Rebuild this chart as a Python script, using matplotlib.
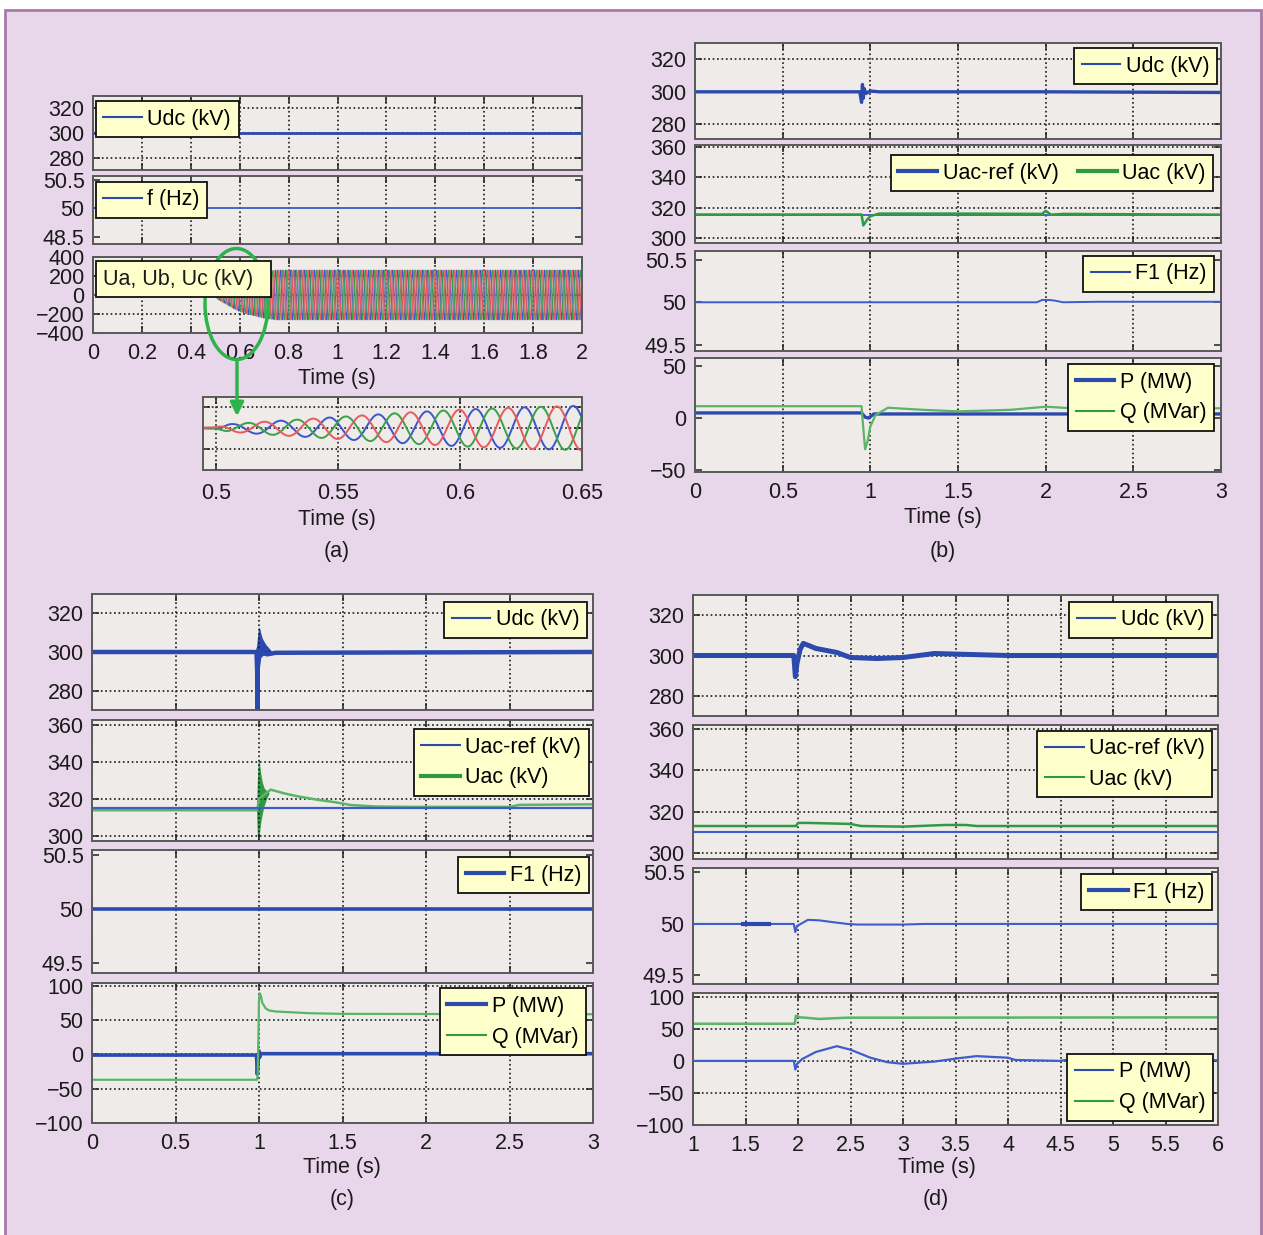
import numpy as np
import matplotlib.pyplot as plt
from matplotlib.lines import Line2D
from matplotlib.patches import Rectangle, Ellipse, FancyArrowPatch
from matplotlib.ticker import FuncFormatter

plt.rcParams['font.family'] = ['Liberation Sans', 'DejaVu Sans']

W, H = 1263, 1235
FS = 15.5

BLUE = '#2c4aae'
BLUE_LT = '#3d5dcc'
GREEN = '#2f9a42'
GREEN_LT = '#5ab566'
ARROW_GREEN = '#2db34a'
AX_FACE = '#efebe8'
BG = '#e8d6ea'
EDGE = '#a87aa9'
LEG_FACE = '#ffffcc'
PHASE_COLORS = {'blue': '#3a55d0', 'green': '#3aa04a', 'red': '#e85a60'}

# ---------------- (a) start-up ----------------
A_UDC_T = [0.0, 2.0]
A_UDC_V = [300, 300]
A_F_T = [0.0, 2.0]
A_F_V = [50, 50]
# envelope of Ua, Ub, Uc (kV); carrier is the 50 Hz grid
A_ENV_T = [0.0, 0.49, 0.50, 0.505, 0.52, 0.55, 0.58, 0.60, 0.63, 0.65, 0.70, 0.75, 2.0]
A_ENV_V = [0, 0, 8, 35, 60, 105, 150, 175, 200, 212, 245, 262, 262]
A_FREQ = 50.0
A_PEAKS = {'blue': 0.6064, 'green': 0.6131, 'red': 0.6197}

# ---------------- (b) ----------------
B_UDC_T = [0, 0.94, 0.95, 0.955, 0.96, 0.965, 0.975, 1.0, 1.05, 2.0, 3.0]
B_UDC_V = [300, 300, 293.5, 304.5, 296, 302, 299, 300.5, 300, 300, 299.6]
B_UACREF_T = [0, 3.0]
B_UACREF_V = [315.6, 315.6]
B_UAC_T = [0, 0.95, 0.96, 0.98, 1.0, 1.05, 1.5, 1.98, 2.0, 2.03, 2.1, 3.0]
B_UAC_V = [315.6, 315.6, 308.5, 312, 314.5, 316.2, 316.2, 316, 318, 315.5, 316, 315.5]
B_F1_T = [0, 1.95, 1.98, 2.02, 2.05, 2.1, 2.3, 3.0]
B_F1_V = [50, 50, 50.027, 50.027, 50.02, 50.0, 50.006, 50.006]
B_P_T = [0, 0.95, 0.97, 0.99, 1.02, 3.0]
B_P_V = [5, 5, 1, 0, 4, 4]
B_Q_T = [0, 0.95, 0.96, 0.97, 0.985, 1.0, 1.03, 1.1, 1.3, 1.5, 1.8, 2.0, 2.2, 3.0]
B_Q_V = [11.5, 11.5, -10, -30, -22, -8, 3, 10, 8, 6.5, 8, 11, 9, 9.5]

# ---------------- (c) ----------------
C_UDC_T = [0, 0.985, 0.989, 0.990, 0.991, 1.0, 1.05, 1.1, 3.0]
C_UDC_V = [300, 300, 290, 270, 290, 300, 298.8, 299.6, 300]
C_UDC_BAND_T = [0.975, 0.985, 0.99, 0.995, 1.0, 1.005, 1.01, 1.02, 1.04, 1.06, 1.08]
C_UDC_BAND_HI = [300, 303, 307, 311, 313, 312, 310, 307, 304, 302, 300]
C_UDC_BAND_LO = [300, 286, 284, 285, 290, 294, 297, 298, 299, 299.5, 300]
C_UACREF_T = [0, 3.0]
C_UACREF_V = [314.8, 314.8]
C_UAC_T = [0, 0.99, 1.0, 1.07, 1.15, 1.23, 1.35, 1.46, 1.55, 1.7, 1.92, 2.5, 2.56, 3.0]
C_UAC_V = [313.8, 313.8, 320, 325, 323, 321.4, 319.5, 318.1, 316.6, 315.8, 315.6, 315.6, 316.7, 317]
C_UAC_BAND_T = [0.985, 0.99, 0.995, 1.0, 1.005, 1.01, 1.02, 1.03, 1.045, 1.06]
C_UAC_BAND_HI = [314, 330, 340, 342, 338, 334, 329, 326, 324.5, 323.5]
C_UAC_BAND_LO = [314, 300, 297, 299, 303, 307, 312, 316, 320, 323]
C_F1_T = [0, 3.0]
C_F1_V = [50, 50]
C_P_T = [0, 0.985, 0.99, 0.995, 1.0, 1.005, 1.01, 3.0]
C_P_V = [-1, -1, -29, -10, 5, -4, 1, 1]
C_Q_T = [0, 0.988, 0.992, 0.996, 1.0, 1.005, 1.01, 1.02, 1.04, 1.06, 1.1, 1.3, 1.5, 3.0]
C_Q_V = [-37, -37, -30, 20, 80, 89, 86, 75, 67, 64, 62.5, 60, 59, 58.5]

# ---------------- (d) ----------------
D_UDC_T = [1, 1.96, 1.975, 1.99, 2.02, 2.05, 2.1, 2.17, 2.37, 2.5, 2.75, 3.0, 3.15, 3.3, 3.5, 4.0, 6.0]
D_UDC_V = [300, 300, 289.5, 296, 303, 306, 305, 303.5, 301.5, 299, 298.5, 299, 300, 301, 300.7, 300, 300]
D_UACREF_T = [1, 6.0]
D_UACREF_V = [310, 310]
D_UAC_T = [1, 1.98, 2.0, 2.1, 2.5, 2.6, 3.0, 3.4, 3.6, 3.7, 6.0]
D_UAC_V = [313, 313, 314.5, 314.5, 314, 313, 312.7, 313.5, 313.5, 313, 313]
D_F1_T = [1, 1.96, 1.974, 1.99, 2.095, 2.2, 2.35, 2.47, 2.57, 3.0, 3.2, 6.0]
D_F1_V = [50, 50, 49.92, 49.98, 50.04, 50.035, 50.015, 50.0, 49.994, 49.994, 50, 50]
D_F1_NOISE_T = [1.48, 1.72]
D_P_T = [1, 1.96, 1.975, 1.99, 2.04, 2.17, 2.37, 2.5, 2.69, 2.85, 3.0, 3.3, 3.52, 3.7, 4.0, 4.07, 4.5, 4.6, 6.0]
D_P_V = [0, 0, -13.5, -5, 3, 14, 23, 17.5, 5, -2, -4.5, -1, 4, 7.5, 5, 1.5, 0, 3, 1]
D_Q_T = [1, 1.97, 1.98, 2.02, 2.1, 2.2, 2.47, 3.0, 6.0]
D_Q_V = [58, 58, 70.5, 68, 67, 65.5, 67.5, 67.5, 68]

fig = plt.figure(figsize=(W / 100, H / 100), dpi=100)
fig.patch.set_facecolor('white')
fig.add_artist(Rectangle((5 / W, -0.01), (1261 - 5) / W, 1 - 10 / H + 0.01,
                         transform=fig.transFigure, fc=BG, ec=EDGE, lw=2, zorder=-10))

fmt = FuncFormatter(lambda v, p: ('%g' % v).replace('-', '\u2212'))


def panel_ax(box, xlim, xticks, ylim, yticks, ylabels=None, xlabels=False, xpad=7.3, ygrid=True):
    l, t, r, b = box
    ax = fig.add_axes([l / W, 1 - b / H, (r - l) / W, (b - t) / H])
    ax.set_facecolor(AX_FACE)
    ax.set_xlim(xlim)
    ax.set_ylim(ylim)
    ax.set_xticks(xticks)
    ax.set_yticks(yticks)
    ax.xaxis.set_major_formatter(fmt)
    ax.yaxis.set_major_formatter(fmt)
    if ylabels is not None:
        ax.set_yticklabels(ylabels)
    ax.grid(True, axis='x', ls=':', lw=1.2, color='#1a1a1a')
    if ygrid:
        ax.grid(True, axis='y', ls=':', lw=1.2, color='#1a1a1a')
    ax.tick_params(direction='in', top=True, right=True, length=5, width=1.1,
                   color='#222', labelsize=FS, labelcolor='#1a1a1a')
    ax.tick_params(axis='x', pad=xpad, labelbottom=xlabels)
    ax.tick_params(axis='y', pad=6)
    for s in ax.spines.values():
        s.set_color('#5a5a5a')
        s.set_linewidth(1.4)
    return ax


def legend(ax, items, anchor, loc='upper right', ncol=1):
    handles = [Line2D([], [], color=c, lw=w) for _, c, w in items]
    labels = [s for s, _, _ in items]
    x, y = anchor
    leg = ax.legend(handles, labels, loc=loc, bbox_to_anchor=(x / W, 1 - y / H),
                    bbox_transform=fig.transFigure, borderaxespad=0, ncol=ncol,
                    fancybox=False, framealpha=1, facecolor=LEG_FACE, edgecolor='#111',
                    fontsize=FS, handlelength=1.8, handletextpad=0.25, borderpad=0.35,
                    labelspacing=0.45, columnspacing=0.9)
    leg.get_frame().set_linewidth(1.3)
    leg.set_zorder(5)
    return leg


def ftext(x, y, s):
    fig.text(x / W, 1 - y / H, s, ha='center', va='center', fontsize=FS, color='#1a1a1a')


THIN, THICK = 1.5, 3.0

# ---------------- panel (a) ----------------
xa = np.arange(0, 2.01, 0.2)
ax = panel_ax((93, 96, 582, 170), (0, 2), xa, (270, 330), [280, 300, 320])
ax.plot(A_UDC_T, A_UDC_V, color=BLUE, lw=2.0)
legend(ax, [('Udc (kV)', BLUE, THIN)], (95.7, 101), loc='upper left')

ax = panel_ax((93, 176, 582, 244), (0, 2), xa, (49.38, 50.567), [49.5, 50, 50.5],
              ylabels=['48.5', '50', '50.5'], ygrid=False)
ax.plot(A_F_T, A_F_V, color=BLUE_LT, lw=1.3)
legend(ax, [('f (Hz)', BLUE, THIN)], (95.7, 181.7), loc='upper left')

t = np.linspace(0, 2, 40001)
env = np.interp(t, A_ENV_T, A_ENV_V)
phases = {k: env * np.cos(2 * np.pi * A_FREQ * (t - tp)) for k, tp in A_PEAKS.items()}

ax = panel_ax((93, 257, 582, 333), (0, 2), xa, (-400, 400), [-400, -200, 0, 200, 400],
              xlabels=True)
for k in ['blue', 'green', 'red']:
    ax.plot(t, phases[k], color=PHASE_COLORS[k], lw=0.7)
fig.add_artist(Rectangle((95.7 / W, 1 - 297.3 / H), (271 - 95.7) / W, (297.3 - 261) / H,
                         transform=fig.transFigure, fc=LEG_FACE, ec='#111', lw=1.3, zorder=25))
fig.text(103 / W, 1 - 280 / H, 'Ua, Ub, Uc (kV)', ha='left', va='center', fontsize=FS,
         color='#1a1a1a', zorder=26)
ftext(337, 378, 'Time (s)')

ax = panel_ax((203, 397, 582, 470), (0.4947, 0.65), [0.5, 0.55, 0.6, 0.65], (-400, 295),
              [-200, 0, 200], xlabels=True, xpad=9.5)
ax.tick_params(axis='y', labelleft=False)
for k in ['blue', 'green', 'red']:
    ax.plot(t, phases[k], color=PHASE_COLORS[k], lw=1.4)
ftext(337, 519, 'Time (s)')
ftext(337, 551, '(a)')

fig.add_artist(Ellipse((236.5 / W, 1 - 304 / H), 63 / W, 111 / H, transform=fig.transFigure,
                       fill=False, ec=ARROW_GREEN, lw=2.5, zorder=20))
fig.add_artist(FancyArrowPatch((237 / W, 1 - 359 / H), (237 / W, 1 - 419 / H),
                               transform=fig.transFigure, arrowstyle='-|>', mutation_scale=20,
                               color=ARROW_GREEN, lw=2.5, zorder=20))

# ---------------- panel (b) ----------------
xb = np.arange(0, 3.01, 0.5)
ax = panel_ax((695, 43, 1221, 139), (0, 3), xb, (271, 330), [280, 300, 320])
ax.plot(B_UDC_T, B_UDC_V, color=BLUE, lw=2.4)
legend(ax, [('Udc (kV)', BLUE, THIN)], (1217, 48.3))

ax = panel_ax((695, 145, 1221, 243), (0, 3), xb, (297, 361), [300, 320, 340, 360])
ax.plot(B_UACREF_T, B_UACREF_V, color=BLUE_LT, lw=1.3)
ax.plot(B_UAC_T, B_UAC_V, color=GREEN, lw=1.8)
legend(ax, [('Uac-ref (kV)', BLUE, THICK), ('Uac (kV)', GREEN, THICK)], (1213, 155), ncol=2)

ax = panel_ax((695, 251, 1221, 351), (0, 3), xb, (49.43, 50.6), [49.5, 50, 50.5], ygrid=False)
ax.plot(B_F1_T, B_F1_V, color=BLUE_LT, lw=1.4)
legend(ax, [('F1 (Hz)', BLUE, THIN)], (1214, 255.7))

ax = panel_ax((695, 358, 1221, 472), (0, 3), xb, (-52, 58), [-50, 0, 50], xlabels=True,
              ygrid=False)
ax.plot(B_P_T, B_P_V, color=BLUE, lw=2.4)
ax.plot(B_Q_T, B_Q_V, color=GREEN_LT, lw=1.6)
legend(ax, [('P (MW)', BLUE, THICK), ('Q (MVar)', GREEN, THIN)], (1214, 364))
ftext(943, 518, 'Time (s)')
ftext(943, 551, '(b)')

# ---------------- panel (c) ----------------
ax = panel_ax((92, 594, 593, 710), (0, 3), xb, (270, 330), [280, 300, 320])
ax.fill_between(C_UDC_BAND_T, C_UDC_BAND_LO, C_UDC_BAND_HI, color=BLUE, lw=0)
ax.plot(C_UDC_T, C_UDC_V, color=BLUE, lw=3.2)
legend(ax, [('Udc (kV)', BLUE, THIN)], (587, 601.7))

ax = panel_ax((92, 720, 593, 841), (0, 3), xb, (297, 363), [300, 320, 340, 360])
ax.plot(C_UAC_T, C_UAC_V, color=GREEN_LT, lw=1.8)
ax.fill_between(C_UAC_BAND_T, C_UAC_BAND_LO, C_UAC_BAND_HI, color=GREEN, lw=0)
ax.plot(C_UACREF_T, C_UACREF_V, color=BLUE_LT, lw=1.6)
legend(ax, [('Uac-ref (kV)', BLUE, THIN), ('Uac (kV)', GREEN, THICK)], (588.7, 729))

ax = panel_ax((92, 850, 593, 973), (0, 3), xb, (49.41, 50.546), [49.5, 50, 50.5], ygrid=False)
ax.plot(C_F1_T, C_F1_V, color=BLUE, lw=2.6)
legend(ax, [('F1 (Hz)', BLUE, THICK)], (588.7, 857.3))

ax = panel_ax((92, 983, 593, 1123), (0, 3), xb, (-100, 104), [-100, -50, 0, 50, 100],
              xlabels=True)
ax.plot(C_P_T, C_P_V, color=BLUE, lw=2.6)
ax.plot(C_Q_T, C_Q_V, color=GREEN_LT, lw=1.6)
legend(ax, [('P (MW)', BLUE, THICK), ('Q (MVar)', GREEN, THIN)], (585.7, 988.3))
ftext(342, 1168, 'Time (s)')
ftext(342, 1200, '(c)')

# ---------------- panel (d) ----------------
xd = np.arange(1, 6.01, 0.5)
ax = panel_ax((693, 595, 1218, 716), (1, 6), xd, (270, 330), [280, 300, 320])
ax.plot(D_UDC_T, D_UDC_V, color=BLUE, lw=3.6)
legend(ax, [('Udc (kV)', BLUE, THIN)], (1212, 601.7))

ax = panel_ax((693, 725, 1218, 859), (1, 6), xd, (297, 362), [300, 320, 340, 360])
ax.plot(D_UACREF_T, D_UACREF_V, color=BLUE_LT, lw=1.5)
ax.plot(D_UAC_T, D_UAC_V, color=GREEN, lw=1.8)
legend(ax, [('Uac-ref (kV)', BLUE, THIN), ('Uac (kV)', GREEN, THIN)], (1212.4, 730.7))

ax = panel_ax((693, 868, 1218, 984), (1, 6), xd, (49.417, 50.543), [49.5, 50, 50.5], ygrid=False)
ax.plot(D_F1_T, D_F1_V, color=BLUE_LT, lw=1.5)
ax.plot(D_F1_NOISE_T, [50, 50], color=BLUE, lw=3)
legend(ax, [('F1 (Hz)', BLUE, THICK)], (1212, 874.3))

ax = panel_ax((693, 993, 1218, 1125), (1, 6), xd, (-100, 106), [-100, -50, 0, 50, 100],
              xlabels=True)
ax.plot(D_P_T, D_P_V, color=BLUE_LT, lw=1.6)
ax.plot(D_Q_T, D_Q_V, color=GREEN_LT, lw=1.8)
legend(ax, [('P (MW)', BLUE, THIN), ('Q (MVar)', GREEN, THIN)], (1213, 1120.7), loc='lower right')
ftext(937, 1168, 'Time (s)')
ftext(936, 1200, '(d)')

fig.savefig('out.png', dpi=100)
